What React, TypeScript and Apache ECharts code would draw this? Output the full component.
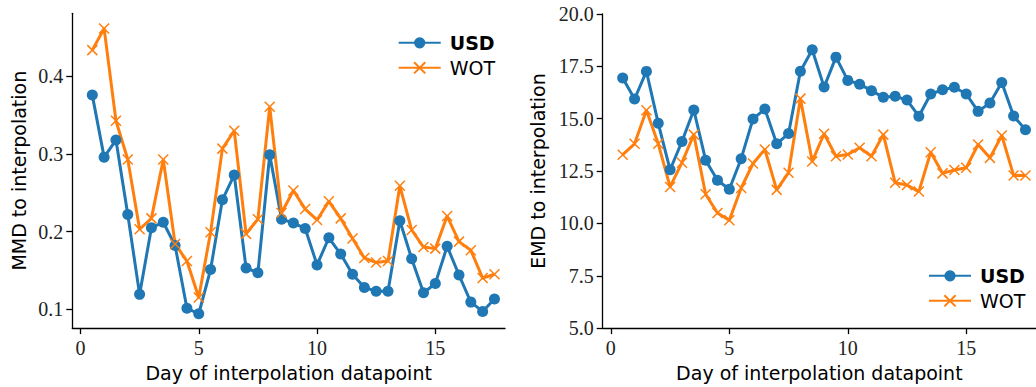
import React, { useEffect, useRef } from "react";
import * as echarts from "echarts";

const days = [0.5, 1, 1.5, 2, 2.5, 3, 3.5, 4, 4.5, 5, 5.5, 6, 6.5, 7, 7.5, 8, 8.5, 9, 9.5, 10, 10.5, 11, 11.5, 12, 12.5, 13, 13.5, 14, 14.5, 15, 15.5, 16, 16.5, 17, 17.5];

const mmdUSD = [0.376, 0.296, 0.318, 0.222, 0.119, 0.205, 0.212, 0.182, 0.101, 0.094, 0.151, 0.241, 0.273, 0.153, 0.147, 0.299, 0.216, 0.211, 0.204, 0.157, 0.192, 0.171, 0.145, 0.128, 0.123, 0.123, 0.214, 0.165, 0.121, 0.133, 0.181, 0.144, 0.109, 0.097, 0.113];
const mmdWOT = [0.434, 0.462, 0.343, 0.293, 0.203, 0.217, 0.293, 0.184, 0.162, 0.115, 0.199, 0.307, 0.330, 0.197, 0.216, 0.361, 0.224, 0.253, 0.229, 0.215, 0.239, 0.217, 0.191, 0.166, 0.160, 0.162, 0.259, 0.202, 0.180, 0.178, 0.220, 0.187, 0.176, 0.140, 0.145];

const emdUSD = [16.94, 15.94, 17.26, 14.78, 12.56, 13.91, 15.42, 13.02, 12.06, 11.63, 13.09, 14.99, 15.46, 13.80, 14.29, 17.27, 18.29, 16.51, 17.94, 16.83, 16.65, 16.34, 16.02, 16.07, 15.89, 15.12, 16.18, 16.38, 16.50, 16.18, 15.35, 15.75, 16.73, 15.13, 14.47];
const emdWOT = [13.28, 13.80, 15.40, 13.80, 11.74, 12.90, 14.24, 11.39, 10.50, 10.15, 11.69, 12.86, 13.53, 11.60, 12.42, 15.96, 12.96, 14.28, 13.21, 13.29, 13.61, 13.21, 14.24, 11.94, 11.83, 11.52, 13.40, 12.39, 12.55, 12.66, 13.77, 13.13, 14.20, 12.29, 12.29];

const xTicks = [0, 5, 10, 15];
const mmdTicks = [0.1, 0.2, 0.3, 0.4];

const BLUE = "#1f77b4";
const ORANGE = "#ff7f0e";
const SANS = "DejaVu Sans";
const SERIF = "Liberation Serif";
const X_PATH = "path://M0,0L10,10M10,0L0,10";

function pairs(ys: number[]) {
  return days.map((d, i) => [d, ys[i]]);
}

function xAxis(gridIndex: number) {
  return {
    type: "value",
    gridIndex,
    min: -0.345,
    max: 17.945,
    name: "Day of interpolation datapoint",
    nameLocation: "middle",
    nameGap: 34,
    nameTextStyle: { fontFamily: SANS, fontSize: 19, color: "#000" },
    axisLine: { show: true, onZero: false, lineStyle: { color: "#000", width: 1.3 } },
    axisTick: { show: true, length: 6, customValues: xTicks, lineStyle: { color: "#000", width: 1.3 } },
    axisLabel: { customValues: xTicks, margin: 10, fontFamily: SERIF, fontSize: 20, color: "#222" },
    splitLine: { show: false },
  };
}

function seriesPair(xi: number, usd: number[], wot: number[]) {
  return [
    {
      name: "USD",
      type: "line",
      xAxisIndex: xi,
      yAxisIndex: xi,
      data: pairs(usd),
      symbol: "circle",
      symbolSize: 11,
      color: BLUE,
      lineStyle: { width: 3, color: BLUE },
      itemStyle: { color: BLUE },
    },
    {
      name: "WOT",
      type: "line",
      xAxisIndex: xi,
      yAxisIndex: xi,
      data: pairs(wot),
      symbol: X_PATH,
      symbolSize: 10,
      color: ORANGE,
      lineStyle: { width: 3, color: ORANGE },
      itemStyle: { color: ORANGE, borderColor: ORANGE, borderWidth: 1.5 },
    },
  ];
}

function legend(left: number, top: number) {
  return {
    orient: "vertical",
    left,
    top,
    itemWidth: 42,
    itemHeight: 14,
    itemGap: 6,
    data: ["USD", "WOT"],
    formatter: (n: string) => (n === "USD" ? "{b|USD}" : "{n|WOT}"),
    textStyle: {
      padding: [0, 0, 0, 4],
      rich: {
        b: { fontFamily: SANS, fontSize: 19, fontWeight: "bold", color: "#000", lineHeight: 22 },
        n: { fontFamily: SANS, fontSize: 19, color: "#000", lineHeight: 22 },
      },
    },
  };
}

export default function App() {
  const ref = useRef<HTMLDivElement>(null);
  useEffect(() => {
    document.body.style.margin = "0";
    const chart = echarts.init(ref.current!, null, { renderer: "svg" });
    chart.setOption({
      animation: false,
      backgroundColor: "#fff",
      grid: [
        { left: 72.3, top: 13.3, width: 432.7, height: 316 },
        { left: 602.7, top: 14, width: 433.3, height: 315.3 },
      ],
      legend: [legend(392.7, 28.3), legend(923, 261.3)],
      xAxis: [xAxis(0), xAxis(1)],
      yAxis: [
        {
          type: "value",
          gridIndex: 0,
          min: 0.0755,
          max: 0.4815,
          name: "MMD to interpolation",
          nameLocation: "middle",
          nameGap: 44,
          nameTextStyle: { fontFamily: SANS, fontSize: 19, color: "#000" },
          axisLine: { show: true, onZero: false, lineStyle: { color: "#000", width: 1.3 } },
          axisTick: { show: true, length: 6, customValues: mmdTicks, lineStyle: { color: "#000", width: 1.3 } },
          axisLabel: {
            customValues: mmdTicks,
            margin: 9,
            fontFamily: SERIF,
            fontSize: 20,
            color: "#222",
            formatter: (v: number) => v.toFixed(1),
          },
          splitLine: { show: false },
        },
        {
          type: "value",
          gridIndex: 1,
          min: 5,
          max: 20,
          interval: 2.5,
          name: "EMD to interpolation",
          nameLocation: "middle",
          nameGap: 55,
          nameTextStyle: { fontFamily: SANS, fontSize: 19, color: "#000" },
          axisLine: { show: true, onZero: false, lineStyle: { color: "#000", width: 1.3 } },
          axisTick: { show: true, length: 6, lineStyle: { color: "#000", width: 1.3 } },
          axisLabel: {
            margin: 9,
            fontFamily: SERIF,
            fontSize: 20,
            color: "#222",
            showMinLabel: true,
            showMaxLabel: true,
            formatter: (v: number) => v.toFixed(1),
          },
          splitLine: { show: false },
        },
      ],
      series: [...seriesPair(0, mmdUSD, mmdWOT), ...seriesPair(1, emdUSD, emdWOT)],
    });
    return () => chart.dispose();
  }, []);
  return <div ref={ref} style={{ width: 1036, height: 387 }} />;
}
